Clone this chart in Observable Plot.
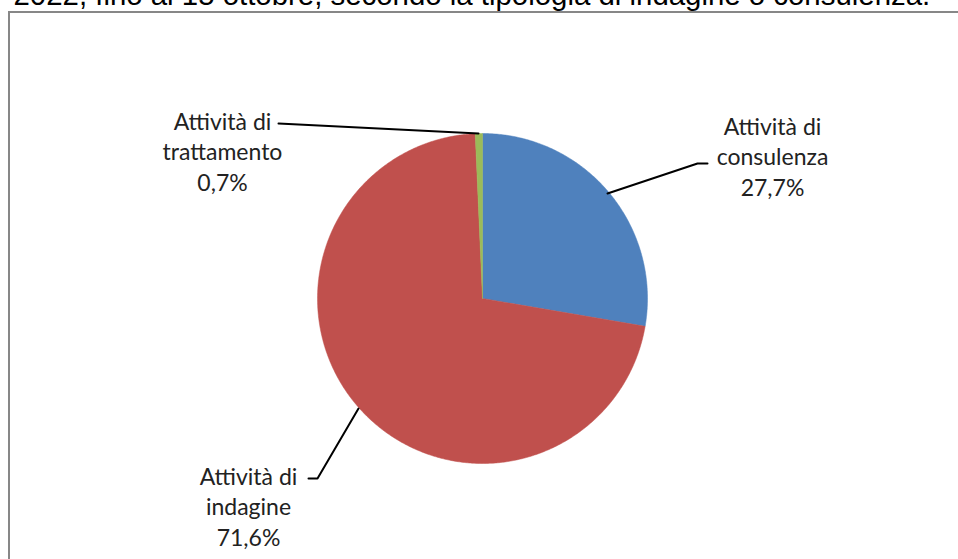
<!DOCTYPE html>
<html>
<head>
<meta charset="utf-8">
<script src="https://cdn.jsdelivr.net/npm/d3@7"></script>
<script src="https://cdn.jsdelivr.net/npm/@observablehq/plot@0.6"></script>
<style>
  html, body { margin: 0; padding: 0; background: #fff; overflow: hidden; }
  #chart { position: relative; width: 958px; height: 559px; overflow: hidden; }
  #box { position: absolute; left: 8px; top: 11px; width: 1000px; height: 600px;
         border: 2px solid #878787; pointer-events: none; box-sizing: border-box; }
</style>
</head>
<body>
<div id="chart"><div id="box"></div></div>
<script>
// ---- data ----
const titleText = "2022, fino al 15 ottobre, secondo la tipologia di indagine o consulenza.";
const categories = ["Attività di consulenza", "Attività di indagine", "Attività di trattamento"];
const labelLines = [["Attività di", "consulenza"], ["Attività di", "indagine"], ["Attività di", "trattamento"]];
const values = [27.7, 71.6, 0.7];
const valueLabels = ["27,7%", "71,6%", "0,7%"];
const colors = ["#4F81BD", "#C0504D", "#9BBB59"];

// ---- layout (pixels relative to pie centre, y up) ----
const W = 958, H = 559;
const cx = 482, cy = 298, R = 165;
const labelPos = [[290, 143], [-234, -207], [-260, 148]];       // centre of label block (middle line)
const leaderPts = [
  [[125, 105], [215, 135], [225, 135]],
  [[-124, -110], [-165, -180], [-174, -180]],
  [[-4, 165], [-204, 175]]
];

// pie geometry from data via d3.pie (clockwise from 12 o'clock)
const arcs = d3.pie().sort(null).value(d => d)(values);
const slicePts = [];
arcs.forEach((a, i) => {
  slicePts.push({slice: i, x: 0, y: 0});
  const n = Math.max(2, Math.ceil((a.endAngle - a.startAngle) / (2 * Math.PI) * 720));
  for (let k = 0; k <= n; k++) {
    const t = a.startAngle + (a.endAngle - a.startAngle) * k / n;
    slicePts.push({slice: i, x: R * Math.sin(t), y: R * Math.cos(t)});
  }
  slicePts.push({slice: i, x: 0, y: 0});
});

const labels = categories.map((c, i) => ({
  text: [...labelLines[i], valueLabels[i]].join("\n"),
  x: labelPos[i][0], y: labelPos[i][1]
}));
const leaders = leaderPts.flatMap((pts, i) => pts.map(p => ({id: i, x: p[0], y: p[1]})));

const plot = Plot.plot({
  width: W, height: H,
  margin: 0,
  x: {domain: [-cx, W - cx], range: [0, W], axis: null},
  y: {domain: [cy - H, cy], range: [H, 0], axis: null},
  style: {background: "transparent", overflow: "visible"},
  marks: [
    ...arcs.map((a, i) => Plot.line(slicePts.filter(d => d.slice === i), {
      x: "x", y: "y", fill: colors[i], stroke: colors[i], strokeWidth: 0.5, curve: "linear"
    })),
    Plot.line(leaders, {x: "x", y: "y", z: "id", stroke: "#000", strokeWidth: 2}),
    Plot.text(labels, {
      x: "x", y: "y", text: "text", fontFamily: "Lato", fontSize: 23, lineHeight: 1.32,
      fill: "#222", textAnchor: "middle"
    }),
    Plot.text([titleText], {
      frameAnchor: "top-left", dx: 13, dy: 4, lineAnchor: "bottom",
      fontFamily: "Liberation Sans", fontSize: 29.4, fill: "#000", textAnchor: "start"
    })
  ]
});
document.getElementById("chart").appendChild(plot);
</script>
</body>
</html>
